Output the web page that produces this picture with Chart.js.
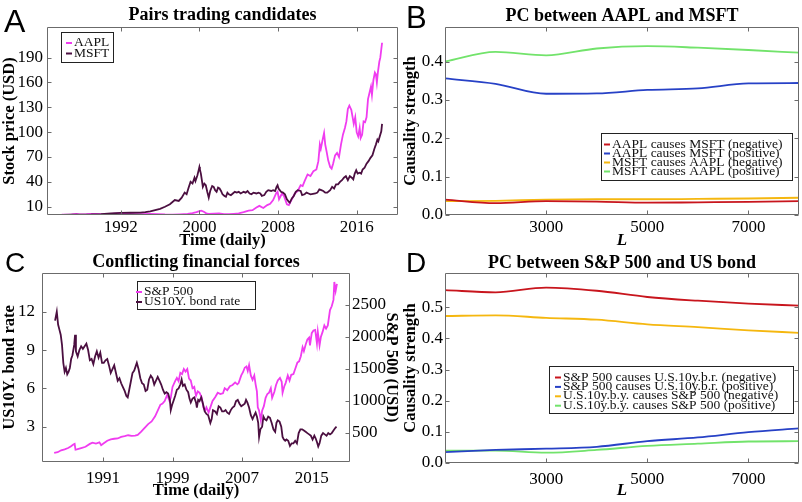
<!DOCTYPE html>
<html>
<head>
<meta charset="utf-8">
<script src="https://cdn.jsdelivr.net/npm/chart.js@4.4.1/dist/chart.umd.min.js"></script>
<style>
  html, body { margin: 0; padding: 0; background: #fff; }
  #fig { position: relative; width: 802px; height: 502px; overflow: hidden; }
  canvas { position: absolute; }
</style>
</head>
<body>
<div id="fig">
  <canvas id="pairs" width="401" height="252" style="left:0;top:0"></canvas>
  <canvas id="pcStocks" width="401" height="252" style="left:401px;top:0"></canvas>
  <canvas id="forces" width="401" height="252" style="left:0;top:250px"></canvas>
  <canvas id="pcBond" width="401" height="252" style="left:401px;top:250px"></canvas>
</div>
<script>
// ---- data ----
const pairsYearTicks = [1992, 2000, 2008, 2016];
const priceTicks = [10, 40, 70, 100, 130, 160, 190];

// [year, price]
const aaplSeries = [
  [1986.0, 0.3], [1987.0, 0.6], [1987.5, 1.2], [1987.8, 0.8], [1988.5, 1.0], [1989.0, 1.3], [1989.5, 1.4],
  [1990.0, 1.0], [1990.8, 0.8], [1991.3, 1.6], [1992.0, 1.8], [1992.8, 1.4], [1993.5, 1.0], [1994.0, 0.9],
  [1995.0, 1.3], [1995.8, 1.0], [1996.5, 0.6], [1997.3, 0.5], [1998.0, 0.8], [1998.8, 1.3], [1999.3, 2.4],
  [1999.7, 3.6], [2000.0, 4.6], [2000.2, 5.2], [2000.45, 4.0], [2000.7, 2.0], [2000.95, 1.3], [2001.5, 1.6],
  [2002.0, 1.8], [2002.5, 1.1], [2003.0, 1.0], [2003.5, 1.4], [2004.0, 1.9], [2004.5, 3.4], [2005.0, 5.4],
  [2005.4, 5.8], [2005.8, 9], [2006.1, 11], [2006.5, 8.5], [2006.9, 12], [2007.2, 13.5], [2007.5, 18],
  [2007.8, 26], [2007.95, 28], [2008.1, 19], [2008.4, 26], [2008.6, 23], [2008.9, 13], [2009.1, 12],
  [2009.4, 19], [2009.7, 26], [2010.0, 29], [2010.3, 36], [2010.5, 35], [2010.7, 41], [2011.0, 49],
  [2011.3, 47], [2011.6, 53], [2011.9, 55], [2012.1, 65], [2012.25, 85], [2012.35, 80], [2012.55, 92],
  [2012.68, 99], [2012.8, 85], [2012.95, 76], [2013.1, 66], [2013.3, 58], [2013.45, 56], [2013.6, 62],
  [2013.8, 72], [2014.0, 75], [2014.2, 70], [2014.4, 85], [2014.6, 97], [2014.8, 105], [2014.95, 113],
  [2015.1, 128], [2015.25, 132], [2015.45, 127], [2015.6, 117], [2015.7, 110], [2015.85, 118], [2016.0, 100],
  [2016.15, 95], [2016.3, 105], [2016.4, 93], [2016.55, 97], [2016.7, 113], [2016.85, 112], [2017.0, 118],
  [2017.15, 140], [2017.35, 150], [2017.45, 155], [2017.55, 145], [2017.7, 163], [2017.85, 172], [2017.95, 170],
  [2018.05, 160], [2018.15, 172], [2018.3, 185], [2018.4, 190], [2018.5, 200], [2018.58, 208]
];

const msftSeries = [
  [1986.1, 0.1], [1987, 0.3], [1988, 0.5], [1989, 0.6], [1990, 1.0], [1991, 2.0], [1992, 2.5], [1993, 2.7],
  [1994, 2.8], [1994.5, 3.5], [1995, 4.5], [1995.5, 6], [1996, 7.5], [1996.5, 10], [1997, 13], [1997.5, 18],
  [1997.9, 17], [1998.2, 21], [1998.5, 27], [1998.7, 25], [1998.9, 33], [1999.1, 40], [1999.3, 38], [1999.5, 45],
  [1999.6, 41], [1999.8, 48], [1999.9, 53], [2000.0, 58], [2000.05, 55], [2000.15, 50], [2000.25, 42],
  [2000.35, 34], [2000.5, 38], [2000.65, 36], [2000.8, 28], [2000.95, 21], [2001.1, 29], [2001.3, 35],
  [2001.45, 34], [2001.6, 30], [2001.75, 28], [2001.9, 33], [2002.05, 32], [2002.2, 29], [2002.35, 25],
  [2002.55, 23], [2002.7, 22], [2002.85, 27], [2003.0, 25], [2003.2, 24], [2003.4, 26], [2003.6, 28],
  [2003.8, 27], [2004.0, 28], [2004.2, 26], [2004.5, 28], [2004.7, 27], [2004.9, 29], [2005.1, 26],
  [2005.3, 25], [2005.5, 27], [2005.8, 26], [2006.0, 27], [2006.2, 26], [2006.35, 23], [2006.6, 24],
  [2006.8, 28], [2007.0, 30], [2007.3, 29], [2007.5, 30], [2007.7, 29], [2007.85, 34], [2007.95, 36],
  [2008.05, 32], [2008.3, 28], [2008.5, 27], [2008.7, 25], [2008.9, 19], [2009.1, 16], [2009.2, 15],
  [2009.4, 20], [2009.6, 23], [2009.8, 28], [2010.0, 30], [2010.3, 29], [2010.45, 24], [2010.7, 25],
  [2010.9, 27], [2011.1, 26], [2011.3, 25], [2011.55, 25.5], [2011.8, 26], [2012.0, 27], [2012.2, 31],
  [2012.4, 30], [2012.6, 29], [2012.8, 27], [2013.0, 27], [2013.3, 30], [2013.5, 34], [2013.7, 32],
  [2013.9, 37], [2014.1, 37], [2014.3, 40], [2014.5, 42], [2014.7, 45], [2014.9, 47], [2015.1, 42],
  [2015.3, 47], [2015.5, 45], [2015.65, 43], [2015.8, 50], [2015.95, 54], [2016.1, 50], [2016.3, 51],
  [2016.45, 50], [2016.6, 55], [2016.8, 57], [2017.0, 62], [2017.2, 65], [2017.4, 69], [2017.6, 72],
  [2017.8, 80], [2017.95, 85], [2018.1, 91], [2018.2, 89], [2018.35, 95], [2018.5, 101], [2018.58, 110]
];

const lagValues = [1000, 2000, 3000, 4000, 5000, 6000, 7000, 8000];
const lagTicks = [3000, 5000, 7000];
const stocksStrengthTicks = [0, 0.1, 0.2, 0.3, 0.4];
const aaplMsftNeg = [0.040, 0.031, 0.036, 0.035, 0.032, 0.033, 0.034, 0.036];
const aaplMsftPos = [0.356, 0.342, 0.316, 0.317, 0.326, 0.330, 0.343, 0.344];
const msftAaplNeg = [0.036, 0.037, 0.040, 0.041, 0.041, 0.042, 0.043, 0.045];
const msftAaplPos = [0.400, 0.425, 0.416, 0.434, 0.440, 0.436, 0.430, 0.423];

const forcesYearTicks = [1991, 1999, 2007, 2015];
const bondTicks = [3, 6, 9, 12];
const spxTicks = [500, 1000, 1500, 2000, 2500];

// [year, S&P 500 level]
const spxSeries = [
  [1985.4, 188], [1985.8, 200], [1986.2, 230], [1986.6, 245], [1987.0, 265], [1987.3, 290], [1987.6, 320],
  [1987.75, 330], [1987.85, 240], [1988.0, 245], [1988.5, 265], [1989.0, 285], [1989.5, 330], [1989.8, 350],
  [1990.2, 335], [1990.6, 355], [1990.8, 310], [1991.1, 340], [1991.5, 380], [1991.9, 400], [1992.3, 410],
  [1992.7, 415], [1993.1, 440], [1993.5, 450], [1993.9, 465], [1994.3, 455], [1994.7, 460], [1995.0, 470],
  [1995.4, 520], [1995.8, 580], [1996.2, 640], [1996.6, 680], [1997.0, 760], [1997.3, 850], [1997.6, 940],
  [1997.85, 960], [1998.1, 1000], [1998.4, 1100], [1998.65, 1000], [1998.8, 1050], [1999.0, 1220],
  [1999.3, 1310], [1999.5, 1360], [1999.7, 1310], [1999.9, 1440], [2000.1, 1420], [2000.3, 1500],
  [2000.5, 1460], [2000.7, 1500], [2000.9, 1350], [2001.1, 1320], [2001.3, 1200], [2001.5, 1220],
  [2001.7, 1080], [2001.9, 1150], [2002.1, 1130], [2002.35, 1060], [2002.55, 900], [2002.75, 850],
  [2002.9, 900], [2003.15, 820], [2003.4, 920], [2003.6, 1000], [2003.9, 1060], [2004.2, 1130],
  [2004.5, 1110], [2004.8, 1120], [2005.0, 1200], [2005.3, 1170], [2005.6, 1230], [2005.9, 1250],
  [2006.2, 1290], [2006.45, 1260], [2006.6, 1280], [2006.9, 1400], [2007.1, 1450], [2007.3, 1520],
  [2007.5, 1540], [2007.65, 1470], [2007.8, 1560], [2008.0, 1400], [2008.2, 1330], [2008.4, 1400],
  [2008.55, 1260], [2008.7, 1150], [2008.8, 900], [2008.95, 850], [2009.15, 700], [2009.3, 850],
  [2009.5, 920], [2009.7, 1050], [2009.9, 1110], [2010.1, 1130], [2010.3, 1200], [2010.45, 1050],
  [2010.7, 1140], [2010.9, 1250], [2011.1, 1320], [2011.35, 1360], [2011.55, 1300], [2011.65, 1130],
  [2011.85, 1230], [2012.0, 1280], [2012.25, 1400], [2012.45, 1320], [2012.65, 1410], [2012.9, 1420],
  [2013.1, 1500], [2013.35, 1600], [2013.55, 1620], [2013.75, 1700], [2013.95, 1840], [2014.1, 1780],
  [2014.3, 1880], [2014.5, 1960], [2014.7, 1990], [2014.8, 1870], [2015.0, 2060], [2015.2, 2100],
  [2015.4, 2110], [2015.6, 1900], [2015.7, 2080], [2015.9, 1870], [2016.05, 2000], [2016.25, 2080],
  [2016.45, 2180], [2016.65, 2130], [2016.85, 2180], [2017.1, 2420], [2017.3, 2480], [2017.5, 2580],
  [2017.6, 2860], [2017.75, 2720], [2017.9, 2830]
];

// [year, 10y bond rate]
const bondSeries = [
  [1985.5, 11.3], [1985.7, 12.0], [1985.85, 11.0], [1986.0, 10.6], [1986.15, 10.2], [1986.3, 9.4],
  [1986.45, 8.0], [1986.6, 7.3], [1986.75, 7.6], [1986.9, 7.1], [1987.05, 7.3], [1987.2, 7.6], [1987.35, 8.3],
  [1987.5, 8.6], [1987.7, 9.4], [1987.8, 10.2], [1987.9, 8.9], [1988.1, 8.5], [1988.3, 9.0], [1988.5, 9.3],
  [1988.7, 9.1], [1988.9, 9.3], [1989.1, 9.5], [1989.3, 9.0], [1989.5, 8.2], [1989.7, 8.3], [1989.9, 7.9],
  [1990.1, 8.5], [1990.3, 8.9], [1990.5, 8.4], [1990.7, 8.8], [1990.9, 8.0], [1991.1, 8.0], [1991.3, 8.2],
  [1991.5, 8.3], [1991.7, 7.8], [1991.9, 7.2], [1992.1, 7.5], [1992.3, 7.8], [1992.5, 7.2], [1992.7, 6.6],
  [1992.9, 6.8], [1993.1, 6.4], [1993.3, 6.1], [1993.5, 5.8], [1993.7, 5.4], [1993.85, 5.3], [1994.0, 5.8],
  [1994.2, 6.5], [1994.4, 7.2], [1994.6, 7.4], [1994.8, 7.8], [1994.9, 8.0], [1995.1, 7.5], [1995.3, 6.8],
  [1995.5, 6.4], [1995.7, 6.3], [1995.9, 5.8], [1996.1, 5.9], [1996.3, 6.7], [1996.5, 7.0], [1996.7, 6.8],
  [1996.9, 6.3], [1997.1, 6.6], [1997.3, 6.9], [1997.5, 6.6], [1997.7, 6.3], [1997.9, 5.9], [1998.1, 5.6],
  [1998.3, 5.7], [1998.5, 5.6], [1998.7, 5.1], [1998.8, 4.3], [1998.95, 4.7], [1999.1, 5.0], [1999.3, 5.4],
  [1999.5, 5.9], [1999.7, 6.0], [1999.9, 6.3], [2000.05, 6.7], [2000.2, 6.2], [2000.4, 6.3], [2000.6, 5.9],
  [2000.8, 5.7], [2000.95, 5.2], [2001.1, 4.9], [2001.3, 5.2], [2001.5, 5.3], [2001.7, 4.9], [2001.8, 4.5],
  [2001.95, 5.1], [2002.1, 5.0], [2002.3, 5.3], [2002.5, 4.8], [2002.7, 4.2], [2002.9, 4.0], [2003.1, 3.9],
  [2003.35, 3.3], [2003.5, 3.6], [2003.65, 4.3], [2003.9, 4.2], [2004.1, 4.0], [2004.3, 4.6], [2004.5, 4.5],
  [2004.7, 4.2], [2004.9, 4.2], [2005.1, 4.3], [2005.3, 4.1], [2005.5, 4.0], [2005.7, 4.3], [2005.9, 4.5],
  [2006.1, 4.6], [2006.3, 5.0], [2006.5, 5.1], [2006.7, 4.8], [2006.9, 4.6], [2007.1, 4.7], [2007.3, 4.8],
  [2007.45, 5.1], [2007.6, 4.9], [2007.8, 4.5], [2008.0, 3.9], [2008.2, 3.6], [2008.4, 3.9], [2008.55, 4.1],
  [2008.7, 3.8], [2008.85, 3.3], [2008.95, 2.2], [2009.1, 2.8], [2009.3, 3.0], [2009.45, 3.8], [2009.6, 3.6],
  [2009.8, 3.5], [2010.0, 3.8], [2010.2, 3.7], [2010.4, 3.3], [2010.6, 2.8], [2010.8, 2.6], [2010.95, 3.3],
  [2011.1, 3.5], [2011.3, 3.4], [2011.5, 3.0], [2011.65, 2.2], [2011.8, 2.0], [2011.95, 1.9], [2012.1, 2.0],
  [2012.3, 1.9], [2012.5, 1.5], [2012.7, 1.7], [2012.9, 1.7], [2013.1, 1.9], [2013.3, 1.7], [2013.5, 2.5],
  [2013.7, 2.8], [2013.9, 2.8], [2014.1, 2.7], [2014.3, 2.6], [2014.5, 2.5], [2014.7, 2.4], [2014.9, 2.3],
  [2015.1, 2.0], [2015.3, 2.3], [2015.45, 2.1], [2015.6, 1.8], [2015.75, 1.45], [2015.9, 1.7], [2016.1, 2.3],
  [2016.3, 2.5], [2016.5, 2.4], [2016.7, 2.3], [2016.9, 2.5], [2017.1, 2.4], [2017.3, 2.5], [2017.5, 2.7],
  [2017.7, 2.9], [2017.85, 3.0]
];

const bondStrengthTicks = [0, 0.1, 0.2, 0.3, 0.4, 0.5];
const spBondNeg = [0.555, 0.548, 0.563, 0.553, 0.533, 0.521, 0.512, 0.505];
const spBondPos = [0.035, 0.042, 0.046, 0.052, 0.070, 0.082, 0.099, 0.111];
const bondSpNeg = [0.472, 0.474, 0.466, 0.460, 0.445, 0.436, 0.426, 0.418];
const bondSpPos = [0.040, 0.040, 0.033, 0.042, 0.055, 0.062, 0.069, 0.070];

// ---- styling ----
const magenta = '#f03cf0';
const plum = '#4b0f40';
const red = '#c8151d';
const blue = '#2741c6';
const yellow = '#f5b70f';
const green = '#72e36b';

const serif = "'Liberation Serif', 'Times New Roman', serif";
const tickFont = { family: serif, size: 17 };
const axisFont = { family: serif, size: 16.5, weight: 'bold' };

const toPoints = (pairs) => pairs.map(p => ({ x: p[0], y: p[1] }));
const lagPoints = (vals) => vals.map((v, i) => ({ x: lagValues[i], y: v }));
const fixedTicks = (list) => (s) => { s.ticks = list.map(v => ({ value: v })); };

// letter + title above the axes
const panelLabel = {
    id: 'panelLabel',
    afterDraw(chart, args, o) {
        const { ctx, chartArea } = chart;
        ctx.save();
        ctx.fillStyle = '#000';
        ctx.textBaseline = 'alphabetic';
        ctx.textAlign = 'left';
        ctx.font = o.letterSize + "px 'Liberation Sans', Arial, sans-serif";
        ctx.fillText(o.letter, o.letterX, o.letterY);
        ctx.textAlign = 'center';
        ctx.font = 'bold 18px ' + serif;
        ctx.fillText(o.title, (chartArea.left + chartArea.right) / 2, o.titleY);
        ctx.restore();
    }
};

// matlab-like box with inward ticks
const axesBox = {
    id: 'axesBox',
    afterDatasetsDraw(chart) {
        const { ctx, chartArea: a, scales } = chart;
        const len = 4;
        const L = Math.round(a.left) + 0.5, R = Math.round(a.right) - 0.5;
        const T = Math.round(a.top) + 0.5, B = Math.round(a.bottom) - 0.5;
        ctx.save();
        ctx.strokeStyle = '#6b6b6b';
        ctx.lineWidth = 1;
        ctx.beginPath();
        ctx.rect(L, T, R - L, B - T);
        scales.x.ticks.forEach(t => {
            const px = Math.round(scales.x.getPixelForValue(t.value)) + 0.5;
            ctx.moveTo(px, B); ctx.lineTo(px, B - len);
            ctx.moveTo(px, T); ctx.lineTo(px, T + len);
        });
        const left = scales.y, right = scales.y1 || scales.y;
        left.ticks.forEach(t => {
            const py = Math.round(left.getPixelForValue(t.value)) + 0.5;
            ctx.moveTo(L, py); ctx.lineTo(L + len, py);
        });
        right.ticks.forEach(t => {
            const py = Math.round(right.getPixelForValue(t.value)) + 0.5;
            ctx.moveTo(R, py); ctx.lineTo(R - len, py);
        });
        ctx.stroke();
        ctx.restore();
    }
};

// boxed legend placed inside the axes
const boxLegend = {
    id: 'boxLegend',
    afterDatasetsDraw(chart, args, o) {
        const ctx = chart.ctx;
        ctx.save();
        ctx.fillStyle = '#fff';
        ctx.fillRect(o.x, o.y, o.w, o.h);
        ctx.strokeStyle = '#222';
        ctx.lineWidth = 1;
        ctx.strokeRect(o.x + 0.5, o.y + 0.5, o.w, o.h);
        ctx.font = o.size + 'px ' + serif;
        ctx.textBaseline = 'middle';
        ctx.textAlign = 'left';
        chart.data.datasets.forEach((ds, i) => {
            const yy = o.rowY + i * o.rowGap;
            ctx.strokeStyle = ds.borderColor;
            ctx.lineWidth = 2;
            ctx.beginPath();
            ctx.moveTo(o.textX - 8, yy + 0.5);
            ctx.lineTo(o.textX - 2, yy + 0.5);
            ctx.stroke();
            ctx.fillStyle = '#111';
            ctx.fillText(ds.label, o.textX, yy);
        });
        ctx.restore();
    }
};

const plainPlugins = {
    legend: { display: false },
    tooltip: { enabled: false }
};

// ---- A ----
new Chart(document.getElementById('pairs'), {
    type: 'line',
    data: {
        datasets: [
            { label: 'AAPL', data: toPoints(aaplSeries), borderColor: magenta, borderWidth: 1.8, pointRadius: 0, order: 1 },
            { label: 'MSFT', data: toPoints(msftSeries), borderColor: plum, borderWidth: 1.8, pointRadius: 0, order: 0 }
        ]
    },
    options: {
        responsive: false,
        animation: false,
        devicePixelRatio: 1,
        layout: { padding: { left: 0, top: 27, right: 3, bottom: 0 } },
        scales: {
            x: {
                type: 'linear', min: 1984.5, max: 2020.2,
                afterBuildTicks: fixedTicks(pairsYearTicks),
                afterFit: s => { s.height = 37; },
                grid: { display: false, drawTicks: false },
                border: { display: false },
                ticks: { color: '#000', font: tickFont, padding: 2, maxRotation: 0, autoSkip: false, callback: v => String(v) },
                title: { display: true, text: 'Time (daily)', color: '#000', font: axisFont, padding: { top: 0, bottom: 1 } }
            },
            y: {
                type: 'linear', min: 0, max: 227,
                afterBuildTicks: fixedTicks(priceTicks),
                afterFit: s => { s.width = 47; },
                grid: { display: false, drawTicks: false },
                border: { display: false },
                ticks: { color: '#000', font: tickFont, padding: 4, callback: v => String(v) },
                title: { display: true, text: 'Stock price (USD)', color: '#000', font: axisFont, padding: { top: 0, bottom: 0 } }
            }
        },
        plugins: {
            ...plainPlugins,
            panelLabel: { letter: 'A', letterSize: 32, letterX: 4, letterY: 32, title: 'Pairs trading candidates', titleY: 20 },
            boxLegend: { x: 61, y: 32, w: 52, h: 30, rowY: 42.5, rowGap: 10.5, textX: 74, size: 13.5 }
        }
    },
    plugins: [panelLabel, axesBox, boxLegend]
});

// ---- B ----
new Chart(document.getElementById('pcStocks'), {
    type: 'line',
    data: {
        datasets: [
            { label: 'AAPL causes MSFT (negative)', data: lagPoints(aaplMsftNeg), borderColor: red },
            { label: 'AAPL causes MSFT (positive)', data: lagPoints(aaplMsftPos), borderColor: blue },
            { label: 'MSFT causes AAPL (negative)', data: lagPoints(msftAaplNeg), borderColor: yellow },
            { label: 'MSFT causes AAPL (positive)', data: lagPoints(msftAaplPos), borderColor: green }
        ]
    },
    options: {
        responsive: false,
        animation: false,
        devicePixelRatio: 1,
        elements: { line: { borderWidth: 1.8, cubicInterpolationMode: 'monotone' }, point: { radius: 0 } },
        layout: { padding: { left: 0, top: 27, right: 3, bottom: 0 } },
        scales: {
            x: {
                type: 'linear', min: 1000, max: 8000,
                afterBuildTicks: fixedTicks(lagTicks),
                afterFit: s => { s.height = 37; },
                grid: { display: false, drawTicks: false },
                border: { display: false },
                ticks: { color: '#000', font: tickFont, padding: 2, maxRotation: 0, autoSkip: false, callback: v => String(v) },
                title: { display: true, text: 'L', color: '#000', font: { ...axisFont, size: 17, style: 'italic' }, padding: { top: 0, bottom: 1 } }
            },
            y: {
                type: 'linear', min: 0, max: 0.49,
                afterBuildTicks: fixedTicks(stocksStrengthTicks),
                afterFit: s => { s.width = 44; },
                grid: { display: false, drawTicks: false },
                border: { display: false },
                ticks: { color: '#000', font: tickFont, padding: 2, callback: v => v.toFixed(1) },
                title: { display: true, text: 'Causality strength', color: '#000', font: axisFont, padding: { top: 0, bottom: 0 } }
            }
        },
        plugins: {
            ...plainPlugins,
            panelLabel: { letter: 'B', letterSize: 31, letterX: 5, letterY: 28, title: 'PC between AAPL and MSFT', titleY: 21 },
            boxLegend: { x: 200, y: 133, w: 191, h: 47, rowY: 144, rowGap: 9, textX: 211, size: 13.5 }
        }
    },
    plugins: [panelLabel, axesBox, boxLegend]
});

// ---- C ----
new Chart(document.getElementById('forces'), {
    type: 'line',
    data: {
        datasets: [
            { label: 'S&P 500', data: toPoints(spxSeries), yAxisID: 'y1', borderColor: magenta, borderWidth: 1.8, pointRadius: 0, order: 1 },
            { label: 'US10Y. bond rate', data: toPoints(bondSeries), yAxisID: 'y', borderColor: plum, borderWidth: 1.8, pointRadius: 0, order: 0 }
        ]
    },
    options: {
        responsive: false,
        animation: false,
        devicePixelRatio: 1,
        layout: { padding: { left: 0, top: 23, right: 0, bottom: 0 } },
        scales: {
            x: {
                type: 'linear', min: 1984.0, max: 2019.4,
                afterBuildTicks: fixedTicks(forcesYearTicks),
                afterFit: s => { s.height = 40; },
                grid: { display: false, drawTicks: false },
                border: { display: false },
                ticks: { color: '#000', font: tickFont, padding: 6, maxRotation: 0, autoSkip: false, callback: v => String(v) },
                title: { display: true, text: 'Time (daily)', color: '#000', font: axisFont, padding: { top: 0, bottom: 1 } }
            },
            y: {
                type: 'linear', position: 'left', min: 0.24, max: 15.03,
                afterBuildTicks: fixedTicks(bondTicks),
                afterFit: s => { s.width = 42; },
                grid: { display: false, drawTicks: false },
                border: { display: false },
                ticks: { color: '#000', font: tickFont, padding: 7, callback: v => String(v) },
                title: { display: true, text: 'US10Y. bond rate', color: '#000', font: axisFont, padding: { top: 0, bottom: 0 } }
            },
            y1: {
                type: 'linear', position: 'right', min: 47, max: 3000,
                afterBuildTicks: fixedTicks(spxTicks),
                afterFit: s => { s.width = 51; },
                grid: { display: false, drawTicks: false },
                border: { display: false },
                ticks: { color: '#000', font: tickFont, padding: 2, callback: v => String(v) },
                title: { display: true, text: 'S&P 500 (USD)', color: '#000', font: axisFont, padding: { top: 0, bottom: 0 } }
            }
        },
        plugins: {
            ...plainPlugins,
            panelLabel: { letter: 'C', letterSize: 28, letterX: 5, letterY: 22, title: 'Conflicting financial forces', titleY: 17 },
            boxLegend: { x: 137, y: 31, w: 118, h: 28, rowY: 41.5, rowGap: 10, textX: 144, size: 13.5 }
        }
    },
    plugins: [panelLabel, axesBox, boxLegend]
});

// ---- D ----
new Chart(document.getElementById('pcBond'), {
    type: 'line',
    data: {
        datasets: [
            { label: 'S&P 500 causes U.S.10y.b.r. (negative)', data: lagPoints(spBondNeg), borderColor: red },
            { label: 'S&P 500 causes U.S.10y.b.r. (positive)', data: lagPoints(spBondPos), borderColor: blue },
            { label: 'U.S.10y.b.y. causes S&P 500 (negative)', data: lagPoints(bondSpNeg), borderColor: yellow },
            { label: 'U.S.10y.b.y. causes S&P 500 (positive)', data: lagPoints(bondSpPos), borderColor: green }
        ]
    },
    options: {
        responsive: false,
        animation: false,
        devicePixelRatio: 1,
        elements: { line: { borderWidth: 1.8, cubicInterpolationMode: 'monotone' }, point: { radius: 0 } },
        layout: { padding: { left: 0, top: 23, right: 3, bottom: 0 } },
        scales: {
            x: {
                type: 'linear', min: 1000, max: 8000,
                afterBuildTicks: fixedTicks(lagTicks),
                afterFit: s => { s.height = 39; },
                grid: { display: false, drawTicks: false },
                border: { display: false },
                ticks: { color: '#000', font: tickFont, padding: 6, maxRotation: 0, autoSkip: false, callback: v => String(v) },
                title: { display: true, text: 'L', color: '#000', font: { ...axisFont, size: 17, style: 'italic' }, padding: { top: 0, bottom: 1 } }
            },
            y: {
                type: 'linear', min: 0, max: 0.61,
                afterBuildTicks: fixedTicks(bondStrengthTicks),
                afterFit: s => { s.width = 44; },
                grid: { display: false, drawTicks: false },
                border: { display: false },
                ticks: { color: '#000', font: tickFont, padding: 2, callback: v => v.toFixed(1) },
                title: { display: true, text: 'Causality strength', color: '#000', font: axisFont, padding: { top: 0, bottom: 0 } }
            }
        },
        plugins: {
            ...plainPlugins,
            panelLabel: { letter: 'D', letterSize: 28, letterX: 5, letterY: 22, title: 'PC between S&P 500 and US bond', titleY: 18 },
            boxLegend: { x: 148, y: 116, w: 244, h: 47, rowY: 127, rowGap: 9.4, textX: 162, size: 13.5 }
        }
    },
    plugins: [panelLabel, axesBox, boxLegend]
});
</script>
</body>
</html>
